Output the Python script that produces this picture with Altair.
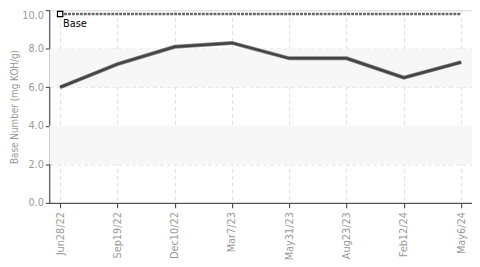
import altair as alt
import pandas as pd

dates = ["Jun28/22", "Sep19/22", "Dec10/22", "Mar7/23", "May31/23", "Aug23/23", "Feb12/24", "May6/24"]
values = [6.0, 7.2, 8.1, 8.3, 7.5, 7.5, 6.5, 7.3]
base_value = 9.8
base_label = "Base"
band_lo = [6.0, 2.0]
band_hi = [8.0, 4.0]
y_ticks = [0, 2, 4, 6, 8, 10]

df = pd.DataFrame({"date": dates, "value": values, "base": [base_value] * len(dates)})
bands = pd.DataFrame({"lo": band_lo, "hi": band_hi})
first = pd.DataFrame({"date": [dates[0]], "base": [base_value], "label": [base_label]})

FONT = "DejaVu Sans Condensed, Roboto, sans-serif"

xscale = alt.Scale(type="point", domain=dates, padding=0.19)
yscale = alt.Scale(domain=[0, 10], nice=False)

xaxis = alt.Axis(title=None, labelAngle=-90, labelColor="#999", labelFont=FONT, labelFontSize=11,
                 grid=True, gridColor="#ddd", gridDash=[4, 3], domainColor="#333", tickColor="#333",
                 tickSize=5, labelPadding=4, labelOverlap=False)
yaxis = alt.Axis(title="Base Number (mg KOH/g)", titleColor="#999", titleFont=FONT, titleFontSize=10,
                 titleFontWeight="normal", titleX=-35, titleY=98, titleAngle=270,
                 titleAlign="center", titleBaseline="middle",
                 format=".1f", values=y_ticks,
                 labelColor="#999", labelFont=FONT, labelFontSize=11, grid=True, gridColor="#ddd",
                 gridDash=[4, 3], domainColor="#333", tickColor="#333", tickSize=4,
                 labelOverlap=False, labelFlush=False,
                 labelOffset=alt.condition("datum.value == 10", alt.value(5), alt.value(0)))

band_layer = alt.Chart(bands).mark_rect(color="#f7f7f7").encode(
    y=alt.Y("lo:Q", scale=yscale, axis=yaxis), y2="hi:Q")

axis_layer = alt.Chart(df).mark_line(opacity=0).encode(
    x=alt.X("date:N", scale=xscale, axis=xaxis, sort=dates),
    y=alt.Y("value:Q", scale=yscale, axis=yaxis))

base_line = alt.Chart(df).mark_line(color="#666", strokeWidth=2.5, strokeDash=[3, 1]).encode(
    x=alt.X("date:N", scale=xscale, sort=dates), y=alt.Y("base:Q", scale=yscale, axis=yaxis))

halo = alt.Chart(df).mark_line(color="#888", strokeWidth=4).encode(
    x=alt.X("date:N", scale=xscale, sort=dates), y=alt.Y("value:Q", scale=yscale, axis=yaxis))
line = alt.Chart(df).mark_line(color="#444", strokeWidth=2.5).encode(
    x=alt.X("date:N", scale=xscale, sort=dates), y=alt.Y("value:Q", scale=yscale, axis=yaxis))

marker = alt.Chart(first).mark_square(size=30, filled=True, fill="white", stroke="black", strokeWidth=1.2,
                                      opacity=1).encode(
    x=alt.X("date:N", scale=xscale, sort=dates), y=alt.Y("base:Q", scale=yscale, axis=yaxis))
label = alt.Chart(first).mark_text(align="left", baseline="top", dx=3, dy=4, font=FONT,
                                   fontSize=11, color="black").encode(
    x=alt.X("date:N", scale=xscale, sort=dates), y=alt.Y("base:Q", scale=yscale, axis=yaxis),
    text="label:N")

chart = alt.layer(band_layer, axis_layer, base_line, halo, line, marker, label).properties(
    width=430, height=196, autosize="none",
    padding={"left": 42, "top": 0, "right": 0, "bottom": 60},
).configure_view(stroke=None).configure_axisY(labelOverlap=False).configure(background="white")

chart.save("out.html", embed_options={"renderer": "svg", "actions": False})
